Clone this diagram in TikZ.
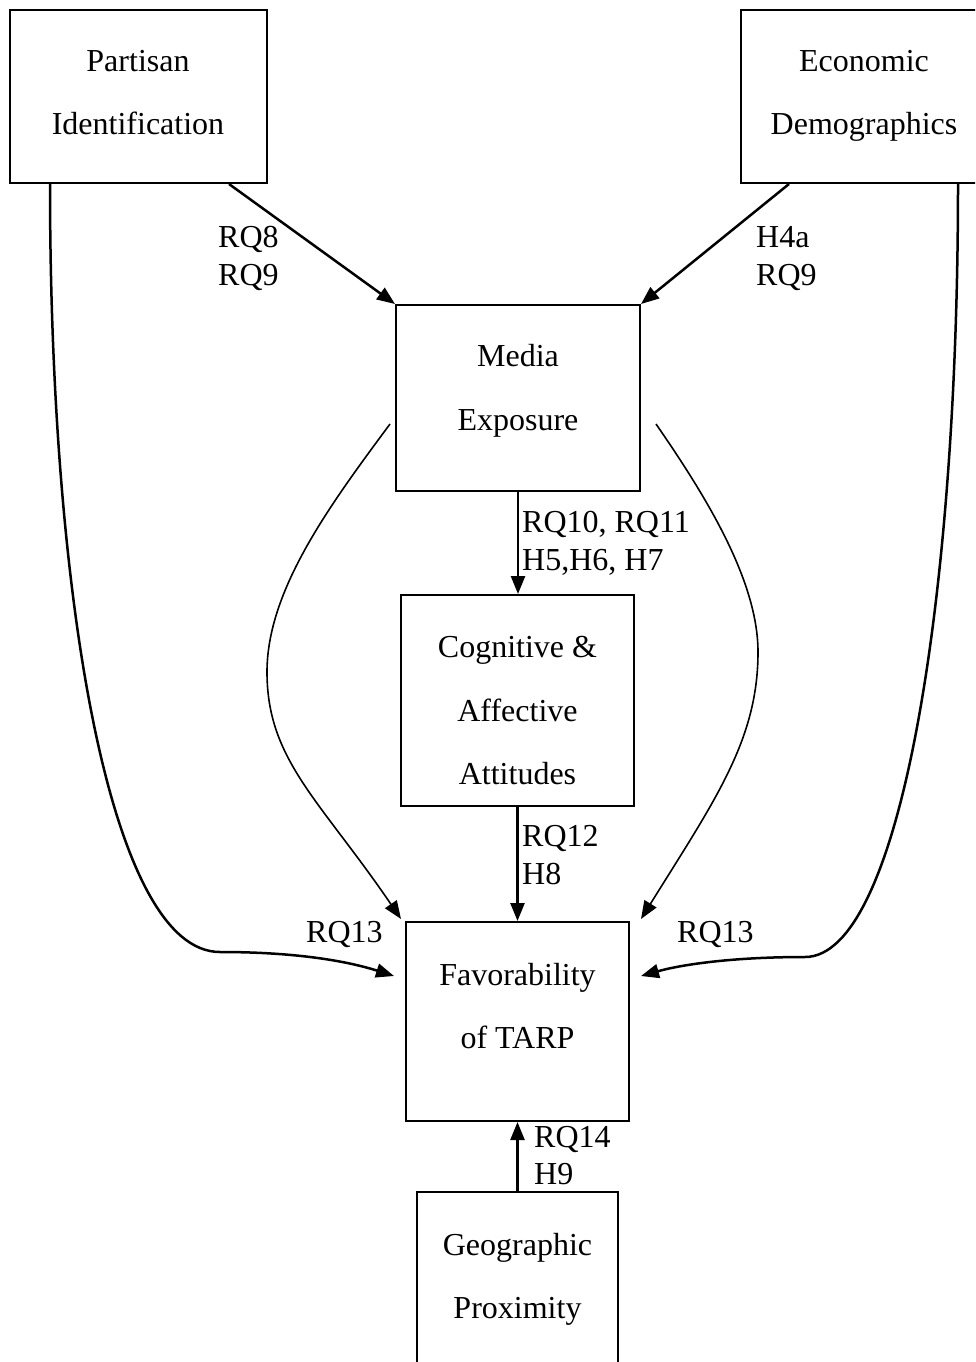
\documentclass[tikz,border=0pt]{standalone}
\usepackage{fontspec}
\setmainfont{Liberation Serif}
\usetikzlibrary{arrows.meta}
\tikzset{
  box/.style={draw, line width=2pt, inner sep=0pt, minimum width=#1},
  txt/.style={inner sep=0pt, anchor=base, font=\fontsize{32}{37}\selectfont},
  lbl/.style={inner sep=0pt, anchor=base west, font=\fontsize{32}{37}\selectfont},
  thickarrow/.style={line width=2.5pt, -{Triangle[length=18pt,width=14pt]}},
  thinarrow/.style={line width=1.6pt, -{Triangle[length=18pt,width=14pt]}},
}
\begin{document}
\begin{tikzpicture}[x=1pt,y=-1pt]
\useasboundingbox (0,0) rectangle (975,1362);
\clip (0,0) rectangle (975,1362);
% boxes
\node[box=257pt, minimum height=173pt] (pi) at (138.5,96.5) {};
\node[box=246pt, minimum height=173pt] (ed) at (864,96.5) {};
\node[box=244pt, minimum height=186pt] (me) at (518,398) {};
\node[box=233pt, minimum height=211pt] (ca) at (517.5,700.5) {};
\node[box=223pt, minimum height=199pt] (fa) at (517.5,1021.5) {};
\node[box=201pt, minimum height=174pt] (gp) at (517.5,1279) {};
% box texts
\node[txt] (pi1) at (138,72) {Partisan};
\node[txt] (pi2) at (138,135) {Identification};
\node[txt] (ed1) at (864,72) {Economic};
\node[txt] (ed2) at (864,135) {Demographics};
\node[txt] (me1) at (518,366) {Media};
\node[txt] (me2) at (518,430) {Exposure};
\node[txt] (ca1) at (517.5,657) {Cognitive \&};
\node[txt] (ca2) at (517.5,721) {Affective};
\node[txt] (ca3) at (517.5,784) {Attitudes};
\node[txt] (fa1) at (517.5,985) {Favorability};
\node[txt] (fa2) at (517.5,1048) {of TARP};
\node[txt] (gp1) at (517.5,1255) {Geographic};
\node[txt] (gp2) at (517.5,1318) {Proximity};
% straight connectors
\draw[thickarrow] ([xshift=90.5pt]pi.south) -- (me.north west);
\draw[thickarrow] ([xshift=-75pt]ed.south) -- (me.north east);
\draw[thickarrow] (me.south) -- (me.south |- ca.north);
\draw[thickarrow] (ca.south) -- (fa.north);
\draw[thickarrow] (gp.north) -- (gp.north |- fa.south);
% long curves
\draw[thickarrow] ([xshift=-88.5pt]pi.south) .. controls (50,600) and (110,952) .. (220,952)
  .. controls (300,952) and (350,962) .. ([xshift=-11pt,yshift=45.5pt]fa.west);
\draw[thickarrow] ([xshift=94pt]ed.south) .. controls (958,600) and (900,957) .. (805,957)
  .. controls (730,957) and (680,965) .. ([xshift=11pt,yshift=45.5pt]fa.east);
% media curves
\draw[thinarrow] ([xshift=-5pt,yshift=-26pt]me.west) .. controls (330,505) and (267,590) .. (267,672)
  .. controls (267,760) and (320,800) .. ([xshift=-4pt,yshift=2pt]fa.north west);
\draw[thinarrow] ([xshift=15pt,yshift=-26pt]me.east) .. controls (705,495) and (758,580) .. (758,652)
  .. controls (758,740) and (715,800) .. ([xshift=11pt,yshift=2pt]fa.north east);
% labels
\node[lbl] (l1a) at (218,247) {RQ8};
\node[lbl] (l1b) at (218,285) {RQ9};
\node[lbl] (l2a) at (756,247) {H4a};
\node[lbl] (l2b) at (756,285) {RQ9};
\node[lbl] (l3a) at (522,532) {RQ10, RQ11};
\node[lbl] (l3b) at (522,570) {H5,H6, H7};
\node[lbl] (l4a) at (522,846) {RQ12};
\node[lbl] (l4b) at (522,884) {H8};
\node[lbl] (l5) at (306,942) {RQ13};
\node[lbl] (l6) at (677,942) {RQ13};
\node[lbl] (l7a) at (534,1147) {RQ14};
\node[lbl] (l7b) at (534,1184) {H9};
\end{tikzpicture}
\end{document}
